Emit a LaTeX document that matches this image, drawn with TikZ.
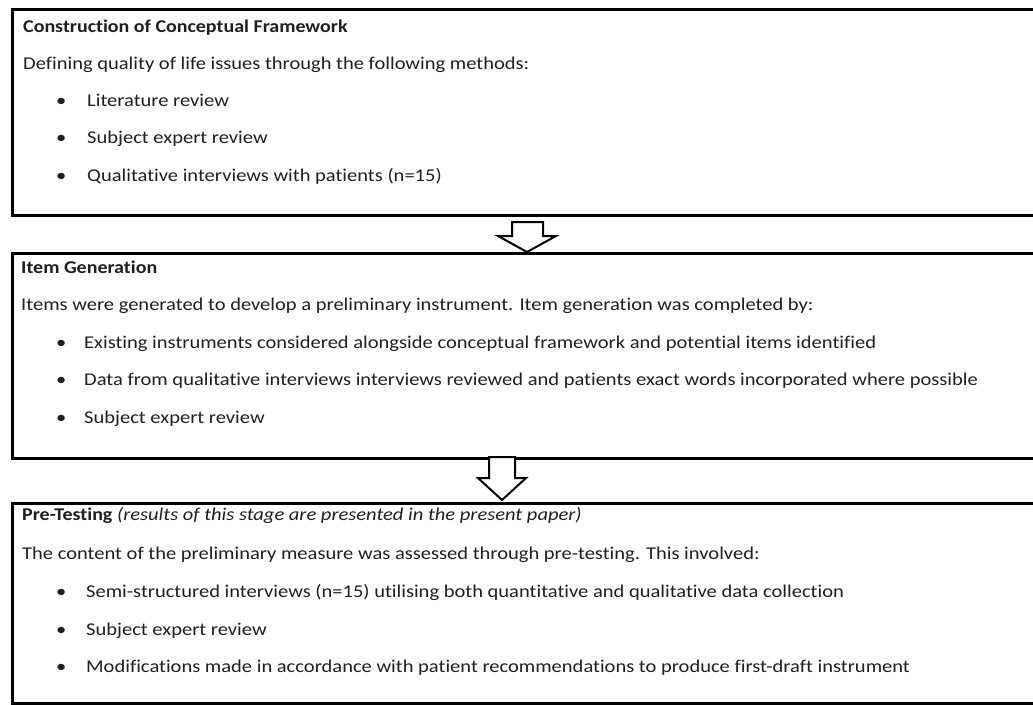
\documentclass[tikz,border=0pt]{standalone}
\usepackage{fontspec}
\setmainfont{Carlito}[FakeStretch=1.14, Ligatures=NoCommon, BoldFeatures={FakeStretch=1.11}]
\begin{document}
\begin{tikzpicture}[x=1pt,y=-1pt,
  box/.style={draw=black, line width=3pt, rectangle, inner sep=0pt, anchor=north west},
  txt/.style={anchor=base west, inner sep=0pt, font=\fontsize{18}{20}\selectfont, text=black!88},
  barrow/.style={draw=black, line width=2pt, fill=white, line join=miter}]
\useasboundingbox (0,0) rectangle (1033,704);
\clip (0,0) rectangle (1033,704);
% boxes
\node[box, minimum width=1040pt, minimum height=205.7pt] (b1) at (11,8.3) {};
\node[box, minimum width=1040pt, minimum height=205pt] (b2) at (11,252) {};
\node[box, minimum width=1040pt, minimum height=199.5pt] (b3) at (11,502) {};
% arrows
\coordinate (t1) at (527,252);
\coordinate (t2) at (502,500);
\draw[barrow] (512,222) -- (543,222) -- (543,236) -- (556,236) -- (t1) -- (498,236) -- (512,236) -- cycle;
\draw[barrow] (489,457) -- (515,457) -- (515,478) -- (526,478) -- (t2) -- (478,478) -- (489,478) -- cycle;
% box 1 text
\node[txt] (h1) at (23,32) {\textbf{Construction of Conceptual Framework}};
\node[txt] (i1) at (23,69) {Defining quality of life issues through the following methods:};
\node[txt] (p1a) at (56,106) {•};
\node[txt] (l1a) at (87,106) {Literature review};
\node[txt] (p1b) at (56,143) {•};
\node[txt] (l1b) at (87,143) {Subject expert review};
\node[txt] (p1c) at (56,181) {•};
\node[txt] (l1c) at (87,181) {Qualitative interviews with patients (n=15)};
% box 2 text
\node[txt] (h2) at (21,273) {\textbf{Item Generation}};
\node[txt] (i2) at (21,310.5) {Items were generated to develop a preliminary instrument. Item generation was completed by:};
\node[txt] (p2a) at (56,348) {•};
\node[txt] (l2a) at (84,348) {Existing instruments considered alongside conceptual framework and potential items identified};
\node[txt] (p2b) at (56,385.5) {•};
\node[txt] (l2b) at (84,385.5) {Data from qualitative interviews interviews reviewed and patients exact words incorporated where possible};
\node[txt] (p2c) at (56,423) {•};
\node[txt] (l2c) at (84,423) {Subject expert review};
% box 3 text
\node[txt] (h3) at (22,520) {\textbf{Pre-Testing} \textit{(results of this stage are presented in the present paper)}};
\node[txt] (i3) at (22,559) {The content of the preliminary measure was assessed through pre-testing. This involved:};
\node[txt] (p3a) at (56,597) {•};
\node[txt] (l3a) at (86,597) {Semi-structured interviews (n=15) utilising both quantitative and qualitative data collection};
\node[txt] (p3b) at (56,635) {•};
\node[txt] (l3b) at (86,635) {Subject expert review};
\node[txt] (p3c) at (56,672) {•};
\node[txt] (l3c) at (86,672) {Modifications made in accordance with patient recommendations to produce first-draft instrument};
\end{tikzpicture}
\end{document}
